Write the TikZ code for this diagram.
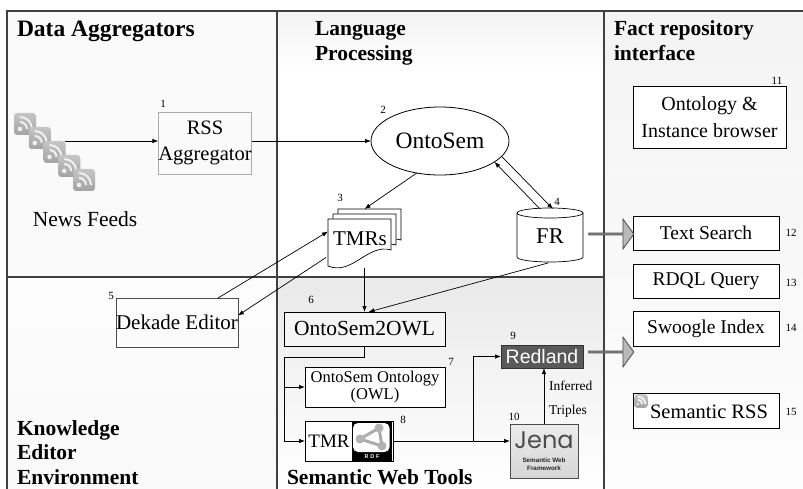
\documentclass[tikz,border=0pt]{standalone}
\usepackage{fontspec}
\setmainfont{Liberation Serif}
\setsansfont{Liberation Sans}
\newfontfamily\jenafont{Poppins}
\usetikzlibrary{shapes.geometric,shapes.arrows,arrows.meta,calc}
\begin{document}
\begin{tikzpicture}[x=1pt,y=-1pt,
  every node/.style={inner sep=0pt, outer sep=0pt},
  title/.style={font=\fontsize{21.5}{24.5}\selectfont\bfseries, align=left, anchor=base west},
  box/.style={draw=black, line width=0.8pt, align=center},
  num/.style={font=\fontsize{11}{13}\selectfont},
  arr/.style={-{Latex[length=6pt,width=4.5pt]}, line width=0.7pt},
  conn/.style={line width=0.7pt},
  frameline/.style={line width=1.1pt, draw=black!75},
  bigarr/.style={single arrow, draw=black!70, fill=gray!55, line width=0.8pt,
    minimum height=45pt, minimum width=30pt, single arrow head extend=6.5pt,
    single arrow tip angle=108},
  rssicon/.pic={
    \shade[rounded corners=3pt, top color=gray!45, bottom color=gray!72] (-11,-11) rectangle (11,11);
    \fill[white!88!gray] (-5,5) circle (2.3);
    \draw[white!88!gray, line width=2pt] (-5,-2) arc[start angle=-90, end angle=0, radius=7];
    \draw[white!88!gray, line width=2pt] (-5,-7) arc[start angle=-90, end angle=0, radius=12];
  }
]
\useasboundingbox (0,0) rectangle (803,489);
\fill[white] (0,0) rectangle (803,489);
% backgrounds
\fill[gray!4] (7,11) rectangle (277,277);
\shade[top color=gray!9, bottom color=white] (277,11) rectangle (604,75);
\shade[top color=gray!2, bottom color=gray!5] (7,277) rectangle (277,489);
\shade[top color=gray!17, bottom color=white] (277,277) rectangle (604,489);
\shade[top color=gray!9, bottom color=gray!2] (604,11) rectangle (803,489);
% frame
\draw[frameline] (803,11) -- (7,11) -- (7,489);
\draw[frameline] (277,11) -- (277,489);
\draw[frameline] (604,11) -- (604,489);
\draw[frameline] (7,277) -- (604,277);
% titles
\node[title, font=\fontsize{23.5}{26}\selectfont\bfseries] (t1) at (17,37) {Data Aggregators};
\node[title] (t2a) at (315,36) {Language};
\node[title] (t2b) at (315,60.5) {Processing};
\node[title] (t3a) at (614,36) {Fact repository};
\node[title] (t3b) at (614,60.5) {interface};
\node[title] (t4a) at (17,435) {Knowledge};
\node[title] (t4b) at (17,459.5) {Editor};
\node[title] (t4c) at (17,484) {Environment};
\node[title] (t5) at (287,484) {Semantic Web Tools};
% news feeds
\foreach \i in {0,...,4} { \pic at ({25+14.75*\i},{124+14*\i}) {rssicon}; }
\node[font=\fontsize{21.5}{24}\selectfont] (nf) at (85,219) {News Feeds};
\coordinate (feedsout) at (65,141);
% RSS aggregator
\node[box, draw=gray!65, minimum width=90pt, minimum height=62pt, font=\fontsize{20.5}{26}\selectfont] (rss) at (205,143) {RSS\\Aggregator};
\node[num] at (163,104) {1};
% OntoSem
\node[ellipse, draw, line width=0.8pt, fill=white, minimum width=138pt, minimum height=68pt, font=\fontsize{23.5}{25}\selectfont] (onto) at (440,141) {OntoSem};
\node[num] at (383,110) {2};
% TMRs stack
\foreach \d in {10,5,0} {
  \filldraw[fill=white, draw=black, line width=0.7pt, shift={(\d,-\d)}] (328,219) -- (391,219) -- (391,250) .. controls (368,243) and (352,276) .. (328,266) -- cycle;
}
\node[minimum width=73pt, minimum height=59pt] (tmrs) at (364.5,238.5) {};
\node[font=\fontsize{21}{23}\selectfont] (tmrstext) at (360,239) {TMRs};
\node[num] at (340,198) {3};
% FR cylinder
\filldraw[fill=white, line width=0.7pt] (517,213) -- (517,257) arc[start angle=180, end angle=0, x radius=33, y radius=5] -- (583,213) arc[start angle=0, end angle=-180, x radius=33, y radius=5] -- cycle;
\draw[line width=0.7pt] (517,213) arc[start angle=180, end angle=0, x radius=33, y radius=5];
\node[minimum width=66pt, minimum height=54pt, font=\fontsize{22.5}{24}\selectfont] (fr) at (550,236) {FR};
\node[num] at (557,202) {4};
% Dekade
\node[box, draw=black!70, minimum width=120pt, minimum height=49pt, font=\fontsize{21}{24}\selectfont] (dek) at (177,322.5) {Dekade Editor};
\node[num] at (111,296) {5};
% OntoSem2OWL
\node[box, fill=gray!8, minimum width=161pt, minimum height=34pt, font=\fontsize{21.5}{24}\selectfont] (o2o) at (364.5,329) {OntoSem2OWL};
\node[num] at (311,300) {6};
% OntoSem Ontology
\node[box, fill=white, minimum width=140pt, minimum height=40pt, font=\fontsize{16.5}{17.5}\selectfont] (ont7) at (375,387) {OntoSem Ontology\\(OWL)};
\node[num] at (451,362) {7};
% TMR RDF
\node[box, fill=white, minimum width=88pt, minimum height=40pt] (tmr8) at (349,441) {};
\node[font=\fontsize{19}{21}\selectfont] (tmr8text) at (329,441) {TMR};
\fill[black] (352,422) rectangle (392,460.5);
\fill[white, rounded corners=5pt] (353,423) rectangle (389.5,452);
\draw[gray!65, line width=3pt] (379,428) -- (360,439) -- (382,446) -- cycle;
\fill[gray!60] (379,428) circle (4.5) (360,439) circle (4.5) (382,446) circle (4.5);
\node[font=\sffamily\bfseries\fontsize{5.5}{6}\selectfont, text=white] (rdf) at (372,456.5) {R\,\,D\,\,F};
\node[num] at (403,420) {8};
% Redland
\node[draw=black!80, line width=0.8pt, fill=black!65, text=white, minimum width=82pt, minimum height=23pt, font=\sffamily\fontsize{19.5}{21}\selectfont] (redland) at (542,356.5) {Redland};
\node[num] at (513,336) {9};
% Jena
\node[draw=gray!60!black, line width=0.8pt, top color=gray!15, bottom color=gray!32, minimum width=68pt, minimum height=54pt] (jena) at (544,451) {};
\node[font=\jenafont\fontsize{24}{26}\selectfont, text=black!70] (jenatext) at (544,440) {Jena};
\node[font=\sffamily\bfseries\fontsize{6.3}{7.5}\selectfont, align=center, text=black!85] (jenasub) at (544,464) {Semantic Web\\Framework};
\node[num] at (514,417) {10};
\node[font=\fontsize{13.5}{15}\selectfont, anchor=west] (inf) at (549,386) {Inferred};
\node[font=\fontsize{13.5}{15}\selectfont, anchor=west] (tri) at (549,411) {Triples};
% right column
\node[box, fill=white, minimum width=153pt, minimum height=62pt, font=\fontsize{20}{27}\selectfont] (browser) at (709.5,117) {Ontology \&\\Instance browser};
\node[num] at (777,81) {11};
\node[box, fill=white, minimum width=146pt, minimum height=34pt, font=\fontsize{19.5}{22}\selectfont] (ts) at (706,233) {Text Search};
\node[num] at (791,233) {12};
\node[box, fill=white, minimum width=146pt, minimum height=34pt, font=\fontsize{19.5}{22}\selectfont] (rdql) at (706,281) {RDQL Query};
\node[num] at (791,283) {13};
\node[box, fill=white, minimum width=146pt, minimum height=35pt, font=\fontsize{19.5}{22}\selectfont] (sw) at (706,328.5) {Swoogle Index};
\node[num] at (791,328) {14};
\node[box, fill=white, minimum width=146pt, minimum height=35pt] (srss) at (706,410.5) {};
\pic[scale=0.62] at (641,401) {rssicon};
\node[font=\fontsize{20.5}{22}\selectfont] (srsstext) at (709,412) {Semantic RSS};
\node[num] at (791,412) {15};
% big arrows
\node[bigarr] (ba1) at (611,234) {};
\node[bigarr] (ba2) at (611,352) {};
% connectors
\draw[arr] (feedsout) -- (feedsout -| rss.west);
\draw[arr] (onto.west -| rss.east) -- (onto.west);
\draw[arr] (onto.-126) -- (tmrs.north);
\draw[arr] ([xshift=-10pt]fr.north) -- (onto.-21);
\draw[arr] (onto.-14) -- ([xshift=3pt]fr.north);
\draw[arr] ($(dek.north)+(41,0)$) -- ($(tmrs.west)+(0,-7)$);
\draw[arr] ($(tmrs.west)+(-2,19)$) -- ($(dek.east)+(0,-7)$);
\draw[arr] (tmrs.south) -- (o2o.north);
\draw[arr] ([xshift=-2pt]fr.south) -- ($(o2o.north)+(4,0)$);
\coordinate (j1) at (284,357);
\draw[conn] (o2o.south) |- (j1) -- (j1 |- tmr8.west);
\draw[arr] (j1 |- ont7.west) -- (ont7.west);
\draw[arr] (j1 |- tmr8.west) -- (tmr8.west);
\coordinate (j2) at (473,441);
\draw[arr] (tmr8.east) -- (tmr8.east -| jena.west);
\draw[arr] (j2) |- (redland.west);
\draw[arr] (jena.north) -- (jena.north |- redland.south);
\end{tikzpicture}
\end{document}
